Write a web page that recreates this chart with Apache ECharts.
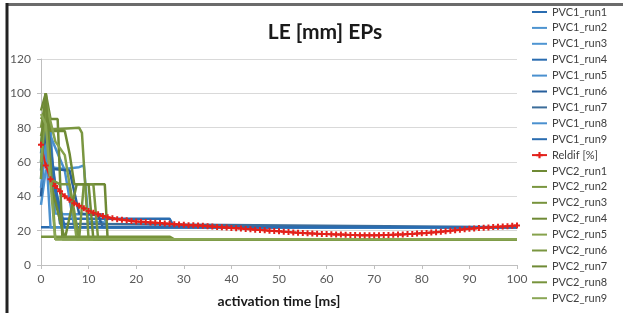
<!DOCTYPE html>
<html>
<head>
<meta charset="utf-8">
<script src="https://cdn.jsdelivr.net/npm/echarts@6/dist/echarts.min.js"></script>
<style>
  html, body { margin: 0; padding: 0; background: #fff; }
  #chart { width: 623px; height: 313px; }
</style>
</head>
<body>
<div id="chart"></div>
<script>
  // time axis of the Reldif curve (ms)
  const reldifTime = [
    0, 1, 2, 3, 4, 5, 6, 7, 8, 9, 10, 11, 12, 13, 14, 15, 16, 17, 18, 19,
    20, 21, 22, 23, 24, 25, 26, 27, 28, 29, 30, 31, 32, 33, 34, 35, 36, 37, 38, 39,
    40, 41, 42, 43, 44, 45, 46, 47, 48, 49, 50, 51, 52, 53, 54, 55, 56, 57, 58, 59,
    60, 61, 62, 63, 64, 65, 66, 67, 68, 69, 70, 71, 72, 73, 74, 75, 76, 77, 78, 79,
    80, 81, 82, 83, 84, 85, 86, 87, 88, 89, 90, 91, 92, 93, 94, 95, 96, 97, 98, 99, 100
  ]
  const reldif = [
    70, 58, 50, 46, 43, 40, 38, 36, 34.5, 33, 31.5, 30.5, 29.5, 28.5, 27.8, 27.2, 26.7, 26.3, 26, 25.7,
    25.4, 25.2, 25, 24.8, 24.6, 24.4, 24.2, 24, 23.8, 23.6, 23.4, 23.2, 23.1, 23, 22.8, 22.6, 22.4, 22.2, 22, 21.8,
    21.6, 21.4, 21.2, 21, 20.8, 20.6, 20.4, 20.2, 20, 19.8, 19.6, 19.4, 19.2, 19, 18.8, 18.7, 18.5, 18.4, 18.2, 18.1,
    18, 17.9, 17.8, 17.7, 17.6, 17.5, 17.5, 17.4, 17.4, 17.4, 17.4, 17.4, 17.5, 17.5, 17.6, 17.7, 17.8, 18, 18.1, 18.3,
    18.5, 18.7, 18.9, 19.1, 19.3, 19.6, 19.9, 20.2, 20.5, 20.8, 21.1, 21.3, 21.5, 21.7, 21.9, 22.1, 22.3, 22.5, 22.6, 22.8, 23
  ]

  // PVC1 runs: [time ms, LE mm] breakpoints
  const pvc1Run1 = [[0, 22], [100, 22]]
  const pvc1Run2 = [[0, 35], [1, 55], [2, 57], [5, 56], [8, 57], [9, 58], [10, 25], [13, 25], [14, 22], [100, 22]]
  const pvc1Run3 = [[0, 60], [1, 95], [2, 80], [3, 30], [5, 29.5], [13, 29.5], [14, 22], [100, 22]]
  const pvc1Run4 = [[0, 70], [1, 90], [2, 60], [4, 27], [27, 27], [28, 22], [100, 22]]
  const pvc1Run5 = [[0, 50], [1, 85], [2, 75], [5, 55], [7, 22], [100, 22]]
  const pvc1Run6 = [[0, 40], [1, 80], [2, 56], [6, 55], [8, 30], [12, 29], [13, 22], [100, 22]]
  const pvc1Run7 = [[0, 55], [1, 92], [4, 24], [100, 22]]
  const pvc1Run8 = [[0, 45], [1, 70], [2, 22], [100, 22]]
  const pvc1Run9 = [[0, 65], [1, 88], [3, 45], [5, 22], [100, 22]]

  // PVC2 runs
  const pvc2Run1 = [[0, 90], [1, 100], [2, 85], [3.5, 85], [4.5, 15], [100, 15]]
  const pvc2Run2 = [[0, 80], [1, 97], [2, 79], [8, 80], [8.6, 77], [10, 15], [100, 15]]
  const pvc2Run3 = [[0, 50], [1, 100], [2, 60], [3, 15], [100, 15]]
  const pvc2Run4 = [[0, 85], [1, 90], [2, 78], [5, 78], [6, 65], [7, 47], [13.4, 47], [14, 15], [100, 15]]
  const pvc2Run5 = [[0, 60], [1, 95], [3, 72], [5, 64], [6, 47], [7.5, 15], [100, 15]]
  const pvc2Run6 = [[0, 75], [1, 88], [2, 50], [4, 47], [6, 47], [8, 15], [9, 47], [11, 47], [12, 15], [100, 15]]
  const pvc2Run7 = [[0, 70], [1, 100], [2, 48], [5, 15], [7.5, 47], [10, 47], [11, 15], [100, 15]]
  const pvc2Run8 = [[0, 16.5], [27, 16.5], [28, 15], [100, 15]]
  const pvc2Run9 = [[0, 88], [1, 82], [2, 48], [3, 15], [100, 15]]

  const pvc1Runs = [pvc1Run1, pvc1Run2, pvc1Run3, pvc1Run4, pvc1Run5, pvc1Run6, pvc1Run7, pvc1Run8, pvc1Run9]
  const pvc2Runs = [pvc2Run1, pvc2Run2, pvc2Run3, pvc2Run4, pvc2Run5, pvc2Run6, pvc2Run7, pvc2Run8, pvc2Run9]

  const blues = ['#2a6cb0', '#4d94d0', '#4e95d2', '#2a6cb0', '#4a90cf', '#275f9c', '#3c6d9a', '#4a90cf', '#2a6cb0']
  const greens = ['#6f8a35', '#7a9640', '#77933c', '#6f8a35', '#86a24c', '#7a9640', '#6f8a35', '#77933c', '#8aa655']

  const runSeries = (name, data, color) => ({
    name: name,
    type: 'line',
    data: data,
    symbol: 'none',
    lineStyle: { color: color, width: 2.5 },
    itemStyle: { color: color },
    animation: false,
  })

  const series = []
  pvc1Runs.forEach((d, i) => series.push(runSeries('PVC1_run' + (i + 1), d, blues[i])))
  series.push({
    name: 'Reldif [%]',
    type: 'line',
    data: reldifTime.map((t, i) => [t, reldif[i]]),
    symbol: 'path://M1,0H2V1H3V2H2V3H1V2H0V1H1Z',
    symbolSize: 6,
    lineStyle: { color: '#e3211b', width: 2 },
    itemStyle: { color: '#e3211b' },
    animation: false,
  })
  pvc2Runs.forEach((d, i) => series.push(runSeries('PVC2_run' + (i + 1), d, greens[i])))

  // legend: plain line for the runs, line + marker for Reldif
  const legendData = series.map((s) =>
    s.name === 'Reldif [%]' ? { name: s.name } : { name: s.name, itemStyle: { opacity: 0 } }
  )

  const chart = echarts.init(document.getElementById('chart'))
  chart.setOption({
    backgroundColor: '#fff',
    animation: false,
    title: {
      text: 'LE [mm] EPs',
      left: 320,
      textAlign: 'center',
      top: 17,
      textStyle: { fontFamily: 'Lato', fontWeight: 'bold', fontSize: 21, color: '#1a1a1a' },
    },
    grid: { left: 41, right: 106, top: 59, bottom: 44 },
    legend: {
      orient: 'vertical',
      left: 531,
      top: 6,
      padding: 0,
      itemWidth: 15,
      itemHeight: 8,
      itemGap: 3.9,
      textStyle: { fontFamily: 'Lato', fontSize: 11, color: '#404040', lineHeight: 12 },
      data: legendData,
    },
    xAxis: {
      type: 'value',
      min: 0,
      max: 100,
      interval: 10,
      name: 'activation time [ms]',
      nameLocation: 'middle',
      nameGap: 29,
      nameTextStyle: { fontFamily: 'Lato', fontWeight: 'bold', fontSize: 14, color: '#1a1a1a' },
      axisLine: { lineStyle: { color: '#bfbfbf' } },
      axisTick: { show: true, length: 4, lineStyle: { color: '#bfbfbf' } },
      axisLabel: { fontFamily: 'Lato', fontSize: 12, color: '#595959', margin: 8 },
      splitLine: { show: false },
    },
    yAxis: {
      type: 'value',
      min: 0,
      max: 120,
      interval: 20,
      axisLine: { show: true, lineStyle: { color: '#bfbfbf' } },
      axisTick: { show: true, length: 4, lineStyle: { color: '#bfbfbf' } },
      axisLabel: { fontFamily: 'Lato', fontSize: 12, color: '#595959', margin: 10 },
      splitLine: { lineStyle: { color: '#d9d9d9' } },
    },
    graphic: [
      { type: 'line', shape: { x1: 6, y1: 4.5, x2: 623, y2: 4.5 }, style: { stroke: '#6b6b6b', lineWidth: 3 }, z: 100 },
      { type: 'line', shape: { x1: 7, y1: 3, x2: 7, y2: 313 }, style: { stroke: '#222', lineWidth: 3 }, z: 100 },
    ],
    series: series,
  })
</script>
</body>
</html>
